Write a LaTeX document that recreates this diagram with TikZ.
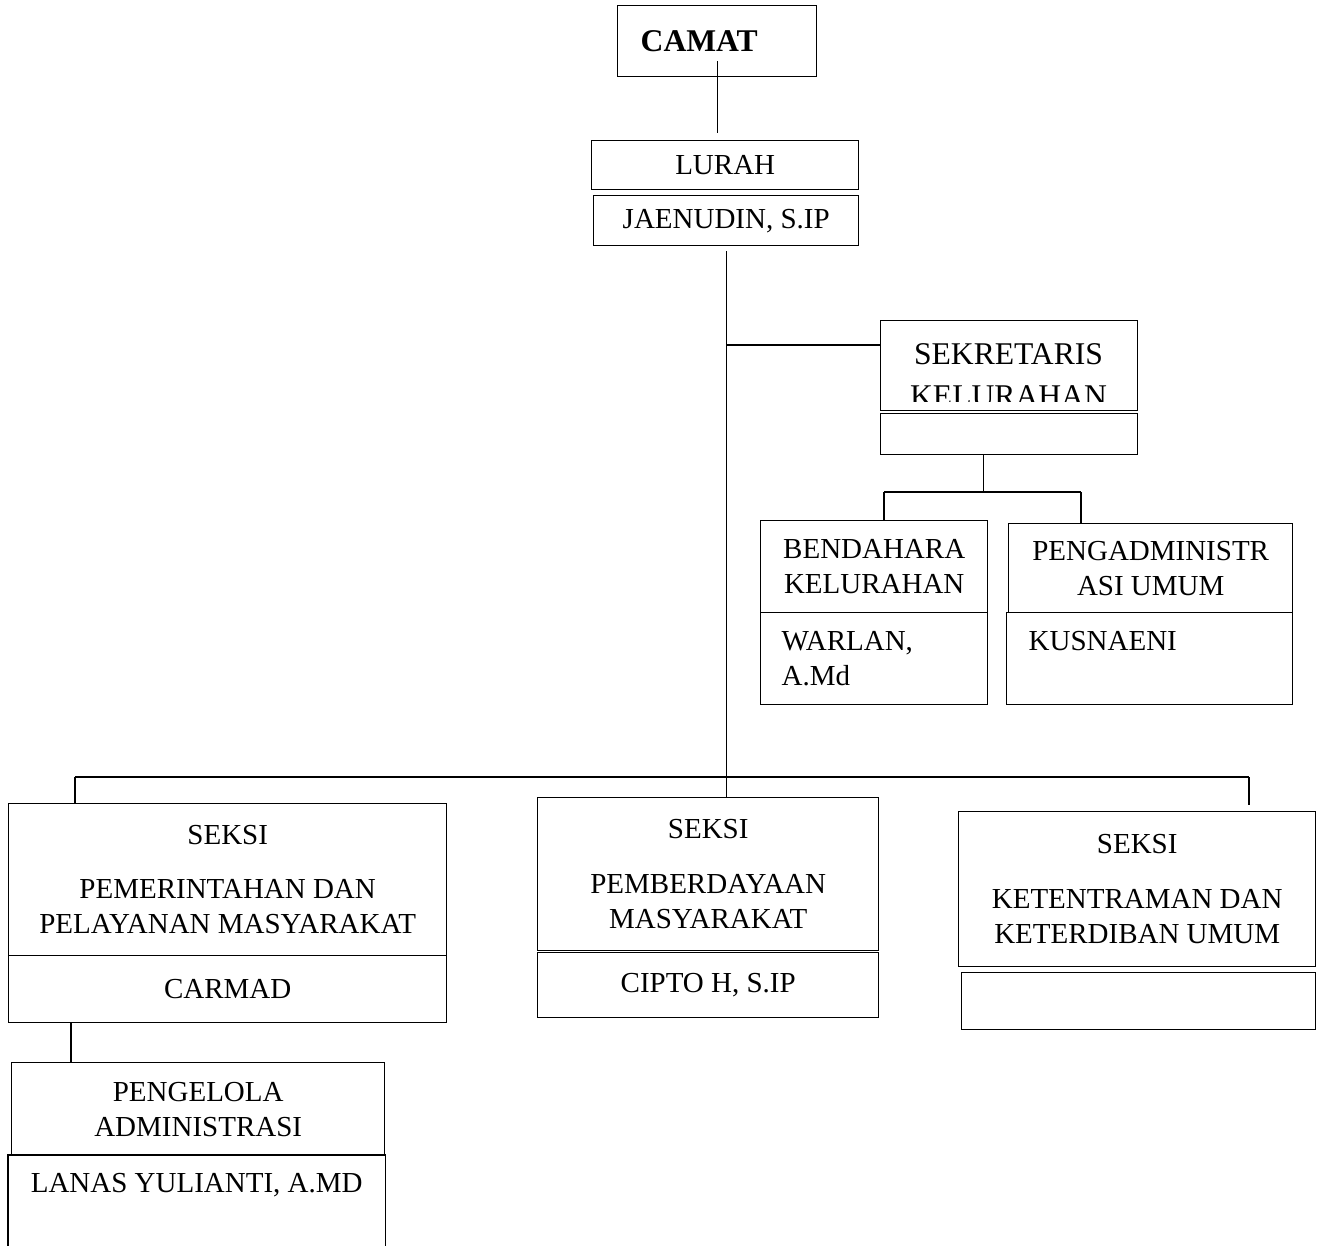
\documentclass[tikz,border=0pt]{standalone}
\usepackage{fontspec}
\setmainfont{Liberation Serif}
\usetikzlibrary{positioning,calc}
\newcommand\isi{\fontsize{16.5}{20}\selectfont}
\newcommand\judul{\fontsize{18}{24}\selectfont}
\tikzset{
  % kotak jabatan
  box/.style={draw, line width=0.8pt, inner sep=0pt, anchor=north west, align=center, font=\isi},
  % ukuran kotak (dalam piksel gambar)
  sz/.style 2 args={minimum width=#1*0.02cm, minimum height=#2*0.02cm},
  % garis penghubung
  link/.style={line width=0.8pt},
  % teks lepas
  txt/.style={inner sep=0pt, align=center},
}

\begin{document}
\begin{tikzpicture}[x=0.02cm, y=-0.02cm]
    \useasboundingbox (0,0) rectangle (1322,1245);

    % Camat dan Lurah
    \node[box, sz={199}{71}, font=\judul\bfseries, text width=3.06cm, align=left] (camat) at (617,5) {CAMAT};
    \node[box, sz={267}{49}] (lurah) at (591,140) {LURAH};
    \node[box, sz={265}{50}] (jaenudin) at (593,195) {JAENUDIN, S.IP};
    \coordinate (atas) at ([yshift=0.32cm]camat.south);
    \coordinate (bawah) at ([yshift=0.14cm]lurah.north);
    \draw[link] (atas) -- (atas |- bawah);

    % Sekretaris
    \node[box, sz={257}{90}] (sek) at (880,320) {};
    \begin{scope}
        \clip (880,320) rectangle (1137,401);
        \node[txt, font=\judul] (sektxt) at (1008.5,375.5) {SEKRETARIS\\KELURAHAN};
    \end{scope}
    \node[box, sz={257}{41}] (sekbawah) at (880,413) {};

    % Staf sekretariat
    \node[box, sz={227}{92}] (bend) at (760,520) {BENDAHARA\\KELURAHAN};
    \node[box, sz={227}{92}, text width=3.7cm, align=left] (bendnama) at (760,612) {WARLAN,\\A.Md};
    \node[box, sz={284}{89}] (peng) at (1008,523) {PENGADMINISTR\\ASI UMUM};
    \node[box, sz={286}{92}, text width=4.84cm, align=left] (pengnama) at (1006,612) {KUSNAENI\\\mbox{}};

    \coordinate (turun) at ([xshift=-0.52cm]sekbawah.south);
    \coordinate (cab1) at (884,492);
    \coordinate (cab2) at (1081,492);
    \draw[link] (turun) -- (turun |- cab1);
    \draw[link] (cab1) -- (cab2);
    \draw[link] (cab1) -- (cab1 |- bend.north);
    \draw[link] (cab2) -- (cab2 |- peng.north);

    % Seksi
    \node[box, sz={438}{152}] (seksi1) at (8,803) {SEKSI\\[11pt]PEMERINTAHAN DAN\\PELAYANAN MASYARAKAT};
    \node[box, sz={438}{67}] (seksi1nama) at (8,955) {CARMAD};
    \node[box, sz={341}{153}] (seksi2) at (537,797) {SEKSI\\[11pt]PEMBERDAYAAN\\MASYARAKAT};
    \node[box, sz={341}{65}] (seksi2nama) at (537,952) {CIPTO H, S.IP};
    \node[box, sz={357}{155}] (seksi3) at (958,811) {SEKSI\\[11pt]KETENTRAMAN DAN\\KETERDIBAN UMUM};
    \node[box, sz={354}{57}] (seksi3nama) at (961,972) {};

    % Pengelola administrasi
    \node[box, sz={373}{93}] (pengelola) at (11,1062) {PENGELOLA\\ADMINISTRASI};
    \node[box, draw=none, sz={376}{90}] (lanas) at (8,1155) {LANAS YULIANTI, A.MD\\\mbox{}};
    \draw[link] (lanas.south west) |- (lanas.north east) -- (lanas.south east);

    % Garis utama
    \draw[link] ([yshift=-0.1cm]jaenudin.south) -- (jaenudin.south |- seksi2.north);
    \coordinate (cabsek) at ([yshift=-0.5cm]sek.north west);
    \draw[link] (jaenudin.south |- cabsek) -- (cabsek);

    \coordinate (bus1) at (75,777);
    \coordinate (bus2) at (1249,777);
    \coordinate (ujung3) at (1249,805);
    \draw[link] (bus1) -- (bus2);
    \draw[link] (bus1) -- (bus1 |- seksi1.north);
    \draw[link] (bus2) -- (ujung3);

    \coordinate (turun1) at ([xshift=1.26cm]seksi1nama.south west);
    \draw[link] (turun1) -- (turun1 |- pengelola.north);
\end{tikzpicture}
\end{document}
